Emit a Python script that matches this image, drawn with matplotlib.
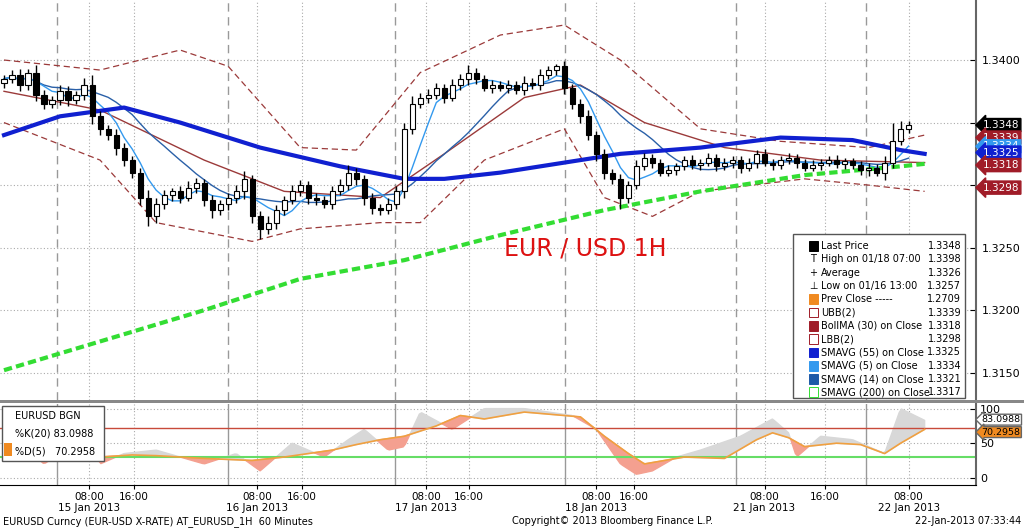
import numpy as np
import pandas as pd
import matplotlib
matplotlib.use("Agg")
import matplotlib.pyplot as plt
from matplotlib.patches import Rectangle

# hourly closes, EUR/USD 15-22 Jan 2013
closes = [1.3385, 1.3388, 1.3380, 1.3390, 1.3372, 1.3365, 1.3368,
          1.3375, 1.3368, 1.3372, 1.3380, 1.3355, 1.3345, 1.3340,
          1.3330, 1.3320, 1.3310, 1.3290, 1.3275, 1.3285,
          1.3292, 1.3295, 1.3290, 1.3298, 1.3302, 1.3288, 1.3280, 1.3285, 1.3290,
          1.3295, 1.3305, 1.3275, 1.3265, 1.3270, 1.3280, 1.3288, 1.3295,
          1.3300, 1.3290, 1.3288, 1.3285, 1.3295, 1.3300, 1.3310, 1.3305, 1.3290,
          1.3282, 1.3280, 1.3285, 1.3295, 1.3345, 1.3365, 1.3370,
          1.3372, 1.3378, 1.3370, 1.3380, 1.3385, 1.3390, 1.3385, 1.3378, 1.3380,
          1.3378, 1.3380, 1.3376, 1.3382, 1.3380, 1.3388, 1.3392, 1.3395,
          1.3378, 1.3365, 1.3355, 1.3340, 1.3325, 1.3310, 1.3305,
          1.3290, 1.3300, 1.3315, 1.3322, 1.3318, 1.3310, 1.3312, 1.3315,
          1.3320, 1.3316, 1.3318, 1.3322, 1.3315, 1.3318, 1.3320, 1.3314, 1.3318,
          1.3325, 1.3318, 1.3316, 1.3320, 1.3322, 1.3318, 1.3314, 1.3316, 1.3318,
          1.3320, 1.3317, 1.3319, 1.3316, 1.3312, 1.3314, 1.3310, 1.3318,
          1.3335, 1.3345, 1.3348]
first_open = 1.3382
# wick extensions in pips above / below the candle body
wick_up = [3, 4, 5, 3, 6, 4, 3, 5, 4, 3, 6, 8, 4, 3, 5, 4, 3, 4, 6, 5,
           4, 3, 4, 5, 4, 3, 4, 3, 4, 5, 6, 3, 4, 5, 4, 3, 5, 4, 3, 4,
           3, 4, 5, 6, 4, 3, 4, 3, 5, 4, 5, 6, 4, 5, 4, 3, 5, 4, 6, 4,
           3, 4, 3, 4, 3, 5, 4, 5, 3, 2, 4, 3, 4, 5, 3, 4, 3, 4, 3, 5,
           4, 3, 3, 4, 3, 3, 4, 3, 4, 3, 4, 3, 3, 4, 3, 4, 3, 3, 4, 3,
           3, 4, 3, 3, 4, 3, 3, 3, 4, 3, 5, 15, 6, 3]
wick_dn = [4, 3, 5, 4, 5, 4, 3, 4, 5, 3, 4, 6, 5, 4, 6, 5, 4, 6, 8, 5,
           4, 5, 4, 3, 4, 5, 6, 4, 5, 4, 6, 5, 8, 4, 5, 4, 3, 4, 5, 4,
           3, 4, 3, 4, 5, 6, 5, 4, 3, 4, 5, 4, 3, 4, 3, 4, 3, 4, 5, 4,
           3, 4, 3, 4, 3, 4, 3, 4, 3, 4, 5, 4, 5, 4, 6, 5, 4, 9, 4, 3,
           3, 4, 3, 3, 4, 3, 3, 4, 3, 4, 3, 4, 4, 3, 4, 3, 4, 3, 3, 4,
           3, 3, 4, 3, 3, 4, 3, 4, 5, 3, 6, 4, 3, 3]

# indicators: (hour index, value)
boll_up_t = [0, 12, 22, 28, 37, 44, 52, 62, 70, 77, 87, 97, 108, 115]
boll_up = [1.3400, 1.3392, 1.3408, 1.3395, 1.3330, 1.3328, 1.3390, 1.3420,
           1.3428, 1.3400, 1.3345, 1.3335, 1.3330, 1.3340]
boll_lo_t = [0, 12, 19, 31, 37, 47, 52, 60, 70, 75, 81, 87, 100, 108, 115]
boll_lo = [1.3350, 1.3320, 1.3270, 1.3255, 1.3265, 1.3270, 1.3270, 1.3320,
           1.3345, 1.3290, 1.3275, 1.3295, 1.3305, 1.3300, 1.3295]
boll_mid_t = [0, 12, 25, 35, 47, 55, 65, 72, 80, 90, 102, 115]
boll_mid = [1.3375, 1.3360, 1.3320, 1.3295, 1.3290, 1.3325, 1.3370, 1.3380,
            1.3350, 1.3330, 1.3320, 1.3318]
sma55_t = [0, 7, 15, 22, 32, 42, 50, 55, 62, 70, 77, 87, 97, 106, 112, 115]
sma55 = [1.3340, 1.3355, 1.3362, 1.3350, 1.3330, 1.3315, 1.3305, 1.3305,
         1.3310, 1.3318, 1.3325, 1.3330, 1.3338, 1.3336, 1.3328, 1.3325]
sma200_t = [0, 12, 25, 37, 50, 62, 75, 87, 100, 112, 115]
sma200 = [1.3152, 1.3175, 1.3200, 1.3225, 1.3240, 1.3260, 1.3280, 1.3295,
          1.3308, 1.3315, 1.3317]

# stochastics
stoch_d_t = [0, 3, 7, 12, 16, 19, 25, 31, 35, 41, 44, 47, 50, 54, 57, 60, 65,
             70, 72, 75, 78, 80, 85, 90, 94, 96, 98, 100, 104, 107, 110, 112, 115]
stoch_d = [40, 38, 35, 30, 33, 32, 28, 25, 30, 40, 48, 55, 60, 75, 90, 85, 95,
           90, 88, 60, 35, 20, 30, 28, 55, 65, 58, 45, 50, 48, 35, 50, 70]
stoch_k_t = [0, 3, 5, 8, 11, 12, 15, 19, 22, 25, 29, 32, 36, 40, 43, 45, 48,
             50, 52, 56, 60, 65, 71, 74, 77, 79, 81, 84, 87, 92, 96, 98, 99,
             102, 106, 110, 112, 115]
stoch_k = [30, 40, 20, 42, 45, 20, 35, 40, 30, 20, 35, 10, 50, 30, 55, 70, 40,
           45, 95, 70, 100, 100, 90, 70, 20, 5, 10, 30, 40, 60, 85, 65, 30, 60,
           55, 35, 100, 83]

tick_pos = [10.6, 16.2, 31.6, 37.2, 52.7, 58.1, 74.0, 78.7, 95.0, 102.5, 113.0]
tick_lab = ["08:00", "16:00"] * 5 + ["08:00"]
day_pos = [10.6, 31.6, 52.7, 74.0, 95.0, 113.0]
day_lab = ["15 Jan 2013", "16 Jan 2013", "17 Jan 2013", "18 Jan 2013",
           "21 Jan 2013", "22 Jan 2013"]
day_sep = [6.6, 28.0, 48.9, 70.1, 91.4, 107.7]

plt.rcParams["font.family"] = "DejaVu Sans"
fig = plt.figure(figsize=(10.24, 5.28), dpi=100)
ax = fig.add_axes([0.0, 0.242, 0.953, 0.758])
ax2 = fig.add_axes([0.0, 0.082, 0.953, 0.152])

c = np.array(closes)
o = np.concatenate([[first_open], c[:-1]])
hi = np.maximum(o, c) + np.array(wick_up) * 1e-4
lo = np.minimum(o, c) - np.array(wick_dn) * 1e-4
x = np.arange(len(c))

s = pd.Series(c)
sma5 = s.rolling(5, min_periods=1).mean()
sma14 = s.rolling(14, min_periods=1).mean()

grid = dict(color="#aaaaaa", linestyle=(0, (1, 2)), linewidth=0.8)
for a in (ax, ax2):
    for t in tick_pos:
        a.axvline(t, zorder=0, **grid)
for t in day_sep:
    ax.axvline(t, color="#999999", linestyle=(0, (6, 4)), linewidth=1, zorder=0)
    ax2.axvline(t, color="#999999", linewidth=1, zorder=0)
for yv in np.arange(1.3150, 1.3401, 0.005):
    ax.axhline(yv, zorder=0, **grid)

ax.plot(boll_up_t, boll_up, color="#9b3a3a", ls=(0, (5, 3)), lw=0.9, zorder=2)
ax.plot(boll_lo_t, boll_lo, color="#9b3a3a", ls=(0, (5, 3)), lw=0.9, zorder=2)
ax.plot(boll_mid_t, boll_mid, color="#9b3a3a", lw=1.0, zorder=2)
ax.plot(x, sma14, color="#2a60a8", lw=1.0, zorder=2)
ax.plot(x, sma5, color="#3399ee", lw=1.0, zorder=2)
ax.plot(sma55_t, sma55, color="#1020d0", lw=3, zorder=3)
ax.plot(sma200_t, sma200, color="#33dd33", lw=3, ls=(0, (2, 1)), zorder=3)

for i in x:
    ax.vlines(i, lo[i], hi[i], color="black", lw=1, zorder=4)
    bot, h = min(o[i], c[i]), max(abs(c[i] - o[i]), 0.00005)
    fc = "white" if c[i] >= o[i] else "black"
    ax.add_patch(Rectangle((i - 0.32, bot), 0.64, h, facecolor=fc,
                           edgecolor="black", lw=0.8, zorder=5))

ax.set_xlim(-0.5, 121.4)
ax.set_ylim(1.3128, 1.3448)
ax.yaxis.tick_right()
ax.set_yticks(np.arange(1.3150, 1.3401, 0.005))
ax.set_yticklabels(["%.4f" % v for v in np.arange(1.3150, 1.3401, 0.005)], fontsize=8)
ax.set_xticks([])
ax.tick_params(axis="y", direction="in", length=4, pad=4)
for sp in ("top", "left", "bottom"):
    ax.spines[sp].set_visible(False)
ax.spines["right"].set_color("#666666")
ax.spines["right"].set_linewidth(1.5)

ax.text(0.6, 0.38, "EUR / USD 1H", transform=ax.transAxes, color="#dd1111",
        fontsize=17, ha="center", va="center")

# price callouts on the right axis
callouts = [(1.3348, "black"), (1.3339, "#a01c28"), (1.3334, "#3399ee"),
            (1.3325, "#1020d0"), (1.3318, "#a01c28"), (1.3298, "#a01c28")]
ybox = [1.3348, 1.3338, 1.3331, 1.3326, 1.3316, 1.3298]
for (v, col), yb in zip(callouts, ybox):
    ax.annotate("%.4f" % v, xy=(1.0, yb), xycoords=("axes fraction", "data"),
                xytext=(5, 0), textcoords="offset points", fontsize=7.5,
                color="white", va="center", ha="left", zorder=10,
                bbox=dict(boxstyle="larrow,pad=0.15", fc=col, ec=col),
                annotation_clip=False)

# legend box
leg_rows = [("Last Price", "1.3348", "black"), ("High on 01/18 07:00", "1.3398", None),
            ("Average", "1.3326", None), ("Low on 01/16 13:00", "1.3257", None),
            ("Prev Close -----", "1.2709", "#f08a20"), ("UBB(2)", "1.3339", "white"),
            ("BollMA (30) on Close", "1.3318", "#a01c28"), ("LBB(2)", "1.3298", "white"),
            ("SMAVG (55) on Close", "1.3325", "#1020d0"),
            ("SMAVG (5) on Close", "1.3334", "#3399ee"),
            ("SMAVG (14) on Close", "1.3321", "#1e5aa8"),
            ("SMAVG (200) on Close", "1.3317", "white")]
markers = {1: "T", 2: "+", 3: "\u22a5"}
lx0, ly0 = 0.813, 0.405
ax.add_patch(Rectangle((lx0, 0.005), 0.176, 0.41, transform=ax.transAxes,
                       facecolor="white", edgecolor="#555555", lw=1, zorder=8))
for k, (name, val, col) in enumerate(leg_rows):
    yy = ly0 - 0.02 - k * 0.0332
    if col:
        ec = "#a01c28" if col == "white" else col
        if name.startswith("SMAVG (200)"):
            ec = "#33dd33"
        ax.add_patch(Rectangle((lx0 + 0.016, yy - 0.012), 0.009, 0.024,
                               transform=ax.transAxes, fc=col, ec=ec, lw=0.7, zorder=9))
    if k in markers:
        ax.text(lx0 + 0.0205, yy, markers[k], transform=ax.transAxes, fontsize=7,
                va="center", ha="center", zorder=9)
    ax.text(lx0 + 0.028, yy, name, transform=ax.transAxes, fontsize=7,
            va="center", zorder=9)
    ax.text(lx0 + 0.172, yy, val, transform=ax.transAxes, fontsize=7,
            va="center", ha="right", zorder=9)

# stochastic panel
kx = np.linspace(0, 115, 400)
ki = np.interp(kx, stoch_k_t, stoch_k)
di = np.interp(kx, stoch_d_t, stoch_d)
ax2.fill_between(kx, ki, di, where=ki >= di, color="#d8d8d8", interpolate=True, zorder=1)
ax2.fill_between(kx, ki, di, where=ki < di, color="#f4a090", interpolate=True, zorder=1)
ax2.plot(stoch_d_t, stoch_d, color="#f0a040", lw=1.2, zorder=3)
ax2.axhline(72, color="#c84a3a", lw=1, zorder=2)
ax2.axhline(30, color="#66dd66", lw=1.5, zorder=2)
for yv in (0, 50, 100):
    ax2.axhline(yv, zorder=0, **grid)
ax2.set_xlim(-0.5, 121.4)
ax2.set_ylim(-10, 106)
ax2.yaxis.tick_right()
ax2.set_yticks([0, 50, 100])
ax2.set_yticklabels(["0", "50", "100"], fontsize=8)
ax2.tick_params(axis="y", direction="in", length=4, pad=3)
ax2.set_xticks(tick_pos)
ax2.set_xticklabels(tick_lab, fontsize=7.5)
ax2.tick_params(axis="x", length=3, pad=2)
for sp in ("top", "left"):
    ax2.spines[sp].set_visible(False)
ax2.spines["right"].set_color("#666666")
ax2.spines["right"].set_linewidth(1.5)
for p, l in zip(day_pos, day_lab):
    ax2.annotate(l, xy=(p, 0), xycoords=("data", "axes fraction"), xytext=(0, -17),
                 textcoords="offset points", fontsize=7.5, ha="center", va="center")
for v, col, yb in ((83.0988, "white", 84), (70.2958, "#f08a20", 66)):
    ax2.annotate("%.4f" % v, xy=(1.0, yb), xycoords=("axes fraction", "data"),
                 xytext=(4, 0), textcoords="offset points", fontsize=6.8, color="black",
                 va="center", bbox=dict(boxstyle="larrow,pad=0.1", fc=col, ec="#666666"),
                 annotation_clip=False)
ax2.add_patch(Rectangle((0.002, 0.3), 0.105, 0.68, transform=ax2.transAxes,
                        fc="white", ec="#555555", lw=1, zorder=8))
ax2.text(0.015, 0.82, "EURUSD BGN", transform=ax2.transAxes, fontsize=7, zorder=9)
ax2.text(0.015, 0.60, "%K(20) 83.0988", transform=ax2.transAxes, fontsize=7, zorder=9)
ax2.text(0.015, 0.38, "%D(5)   70.2958", transform=ax2.transAxes, fontsize=7, zorder=9)
ax2.add_patch(Rectangle((0.004, 0.36), 0.008, 0.16, transform=ax2.transAxes,
                        fc="#f08a20", ec="none", zorder=9))

# separator band between panels
fig.patches.append(Rectangle((0, 0.236), 1, 0.006, transform=fig.transFigure,
                             fc="#888888", ec="none"))
fig.text(0.003, 0.008, "EURUSD Curncy (EUR-USD X-RATE) AT_EURUSD_1H  60 Minutes", fontsize=7)
fig.text(0.5, 0.008, "Copyright\u00a9 2013 Bloomberg Finance L.P.", fontsize=7)
fig.text(0.997, 0.008, "22-Jan-2013 07:33:44", fontsize=7, ha="right")

fig.savefig("out.png", dpi=100)
